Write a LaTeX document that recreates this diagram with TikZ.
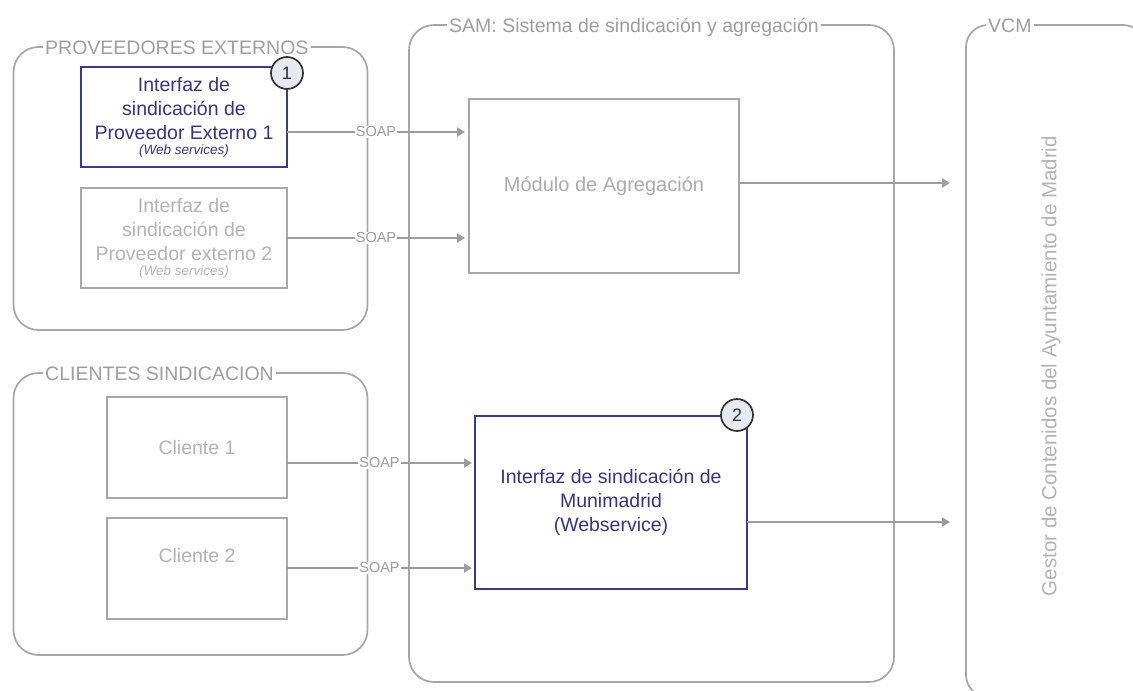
\documentclass[tikz,border=0pt]{standalone}
\usepackage{fontspec}
\setmainfont{Liberation Sans}
\usetikzlibrary{arrows.meta,calc}
\definecolor{grpline}{HTML}{A6A6A6}
\definecolor{grptext}{HTML}{9E9E9E}
\definecolor{boxline}{HTML}{A8A8A8}
\definecolor{lighttext}{HTML}{B3B3B3}
\definecolor{modtext}{HTML}{ABABAB}
\definecolor{bluebox}{HTML}{3A3A8E}
\definecolor{bluetext}{HTML}{353588}
\definecolor{arrcol}{HTML}{9C9C9C}
\definecolor{numfill}{HTML}{E6E9EF}
\definecolor{numline}{HTML}{333333}
\begin{document}
\begin{tikzpicture}[x=1pt,y=-1pt,
  grp/.style={draw=grpline, line width=1.7pt, rounded corners=25pt, rectangle, inner sep=0pt, outer sep=0pt},
  grptitle/.style={fill=white, text=grptext, inner xsep=2pt, inner ysep=1pt, anchor=base west, font=\fontsize{19.5}{24}\selectfont},
  lbox/.style={draw=boxline, line width=2pt, rectangle, inner sep=0pt, outer sep=0pt, text=lighttext, align=center, font=\fontsize{19.5}{24}\selectfont},
  bbox/.style={draw=bluebox, line width=2.2pt, rectangle, inner sep=0pt, outer sep=0pt, text=bluetext, align=center, font=\fontsize{19.5}{24}\selectfont},
  num/.style={circle, draw=numline, line width=1.7pt, fill=numfill, minimum size=32pt, inner sep=0pt, text=numline, font=\fontsize{18}{18}\selectfont},
  arr/.style={draw=arrcol, line width=2.1pt, -{Triangle[length=8pt,width=9pt]}},
  soap/.style={fill=white, text=arrcol, inner sep=1pt, font=\fontsize{14.5}{14.5}\selectfont}
]
\useasboundingbox (0,0) rectangle (1133,691);
\clip (0,0) rectangle (1133,691);

% group containers
\node[grp, minimum width=354pt, minimum height=283pt] (prov) at (190.5,188.5) {};
\node[grp, minimum width=354pt, minimum height=282pt] (cli) at (190.5,514) {};
\node[grp, minimum width=485pt, minimum height=657pt] (sam) at (651.5,353.5) {};
\node[grp, minimum width=179pt, minimum height=672pt, rounded corners=22pt] (vcm) at (1055.5,361) {};

\node[grptitle] (provt) at (43,54) {PROVEEDORES EXTERNOS};
\node[grptitle] (clit) at (43,380) {CLIENTES SINDICACION};
\node[grptitle] (samt) at (447,32) {SAM: Sistema de sindicación y agregación};
\node[grptitle] (vcmt) at (986,32) {VCM};

% boxes
\node[bbox, minimum width=206pt, minimum height=100pt] (i1) at (184,117)
  {Interfaz de\\sindicación de\\Proveedor Externo 1\\[-9pt]{\fontsize{13.5}{15}\selectfont\itshape (Web services)}};
\node[lbox, minimum width=206pt, minimum height=100pt] (i2) at (184,238)
  {Interfaz de\\sindicación de\\Proveedor externo 2\\[-9pt]{\fontsize{13.5}{15}\selectfont\itshape (Web services)}};
\node[lbox, minimum width=180pt, minimum height=101pt] (c1) at (197,447.5) {Cliente 1};
\node[lbox, minimum width=180pt, minimum height=101pt] (c2) at (197,568.5) {};
\node[text=lighttext, font=\fontsize{19.5}{24}\selectfont, inner sep=0pt] (c2t) at (197,556) {Cliente 2};
\node[lbox, minimum width=270pt, minimum height=174pt, text=modtext, font=\fontsize{20}{24}\selectfont] (mod) at (604,186) {Módulo de Agregación};
\node[bbox, minimum width=272pt, minimum height=173pt] (muni) at (611,502.5)
  {Interfaz de sindicación de\\Munimadrid\\(Webservice)};

\node[rotate=90, font=\fontsize{20.5}{24}\selectfont, text=lighttext] (gestor) at (1051,366)
  {Gestor de Contenidos del Ayuntamiento de Madrid};

% connector start and end points
\path ([yshift=-15pt]i1.east) coordinate (s1);
\path (i2.east) coordinate (s2);
\path ([yshift=-15.5pt]c1.east) coordinate (s3);
\path ([yshift=0.5pt]c2.east) coordinate (s4);
\path ([yshift=3pt]mod.east) coordinate (s5);
\path ([yshift=-19.5pt]muni.east) coordinate (s6);
\path ($(vcm.west |- s5)+(-16,0)$) coordinate (e5);
\path ($(vcm.west |- s6)+(-16,0)$) coordinate (e6);

\draw[arr] (s1) -- ($(mod.west |- s1)+(-4,0)$) node[soap, midway] (l1) {SOAP};
\draw[arr] (s2) -- ($(mod.west |- s2)+(-4,0)$) node[soap, midway] (l2) {SOAP};
\draw[arr] (s3) -- ($(muni.west |- s3)+(-3,0)$) node[soap, midway] (l3) {SOAP};
\draw[arr] (s4) -- ($(muni.west |- s4)+(-3,0)$) node[soap, midway] (l4) {SOAP};
\draw[arr] (s5) -- (e5);
\draw[arr] (s6) -- (e6);

% numbered markers
\node[num] (n1) at (287,73) {1};
\node[num] (n2) at (737,415) {2};
\end{tikzpicture}
\end{document}
